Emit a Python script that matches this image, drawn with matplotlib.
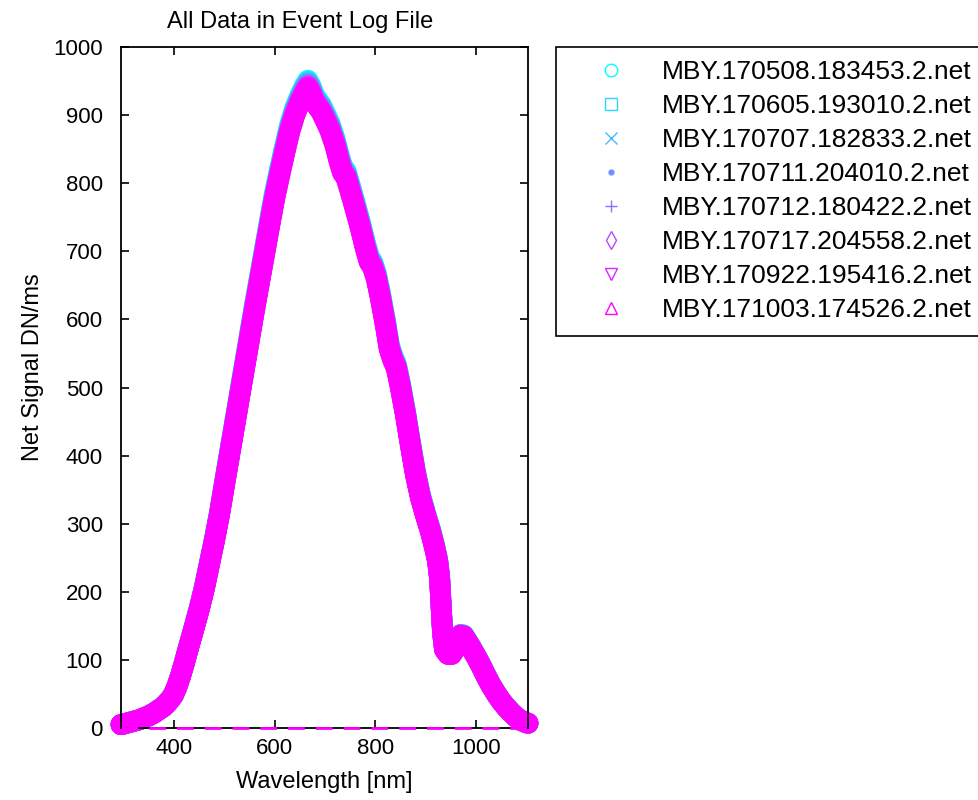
import matplotlib
matplotlib.use('Agg')
import matplotlib.pyplot as plt
import numpy as np

plt.rcParams['font.family'] = ['Liberation Sans', 'DejaVu Sans']

# file names in the event log
files = ['MBY.170508.183453.2.net', 'MBY.170605.193010.2.net',
         'MBY.170707.182833.2.net', 'MBY.170711.204010.2.net',
         'MBY.170712.180422.2.net', 'MBY.170717.204558.2.net',
         'MBY.170922.195416.2.net', 'MBY.171003.174526.2.net']
markers = ['o', 's', 'x', '.', '+', 'd', 'v', '^']

# wavelength [nm] and net signal [DN/ms]
wavelength = [294, 300, 310, 320, 330, 340, 350, 360, 370, 378, 385, 392,
              398, 405, 412, 420, 430, 440, 450, 460, 470, 480, 490, 500,
              510, 520, 530, 540, 550, 560, 570, 580, 590, 600, 610, 620,
              630, 640, 650, 660, 666, 672, 678, 685, 692, 700, 710, 720,
              728, 735, 742, 750, 760, 770, 780, 788, 795, 802, 810, 820,
              828, 835, 842, 850, 860, 870, 880, 890, 900, 910, 918, 924,
              928, 931, 934, 938, 945, 952, 958, 964, 970, 976, 982, 988,
              995, 1002, 1010, 1020, 1030, 1040, 1050, 1060, 1070, 1080,
              1090, 1100, 1104]
signal = [5, 6, 8, 10, 12, 15, 18, 22, 27, 31, 36, 42,
          48, 60, 75, 95, 122, 148, 175, 205, 240, 275, 313, 357,
          400, 443, 486, 529, 572, 615, 656, 697, 738, 778, 812, 845,
          876, 900, 918, 933, 940, 932, 920, 912, 905, 893, 877, 855,
          832, 815, 808, 788, 762, 735, 705, 684, 676, 660, 632, 592,
          556, 540, 528, 500, 460, 415, 372, 338, 312, 288, 265, 245,
          220, 180, 140, 115, 108, 108, 115, 128, 136, 135, 128, 121,
          112, 103, 92, 77, 63, 51, 40, 31, 23, 16,
          11, 8, 7]
# the runs differ only slightly in level (cyan shows at the edges)
gain = [1.012, 1.010, 1.008, 1.006, 1.004, 1.003, 1.001, 1.000]

fig = plt.figure(figsize=(9.79, 8.0), dpi=100)
ax = fig.add_axes([121 / 979, 1 - 728 / 800, 407 / 979, 681 / 800])

cmap = plt.get_cmap('cool')
wl = np.array(wavelength)
for i, name in enumerate(files):
    c = cmap(i / (len(files) - 1))
    y = np.array(signal) * gain[i]
    ax.plot(wl, y, '-', color=c, lw=15, solid_capstyle='round',
            solid_joinstyle='round', clip_on=False, zorder=2)
    filled = markers[i] == '.'
    ax.plot(wl, y, linestyle='none', marker=markers[i], ms=9 if not filled else 7,
            mfc=c if filled else 'none', mec=c, mew=1.0, label=name,
            clip_on=False, zorder=2)

# zero line
ax.plot([wl[0], wl[-1]], [0, 0], '--', color='magenta', lw=2,
        dashes=(6, 4), clip_on=False, zorder=3)

ax.set_xlim(294, 1104)
ax.set_ylim(0, 1000)
ax.set_xticks([400, 600, 800, 1000])
ax.set_yticks(np.arange(0, 1001, 100))
ax.tick_params(direction='in', top=True, right=True, length=6, width=1.2,
               labelsize=16, colors='black')
ax.tick_params(axis='y', pad=13)
ax.tick_params(axis='x', pad=7)
for s in ax.spines.values():
    s.set_linewidth(1.3)

ax.set_xlabel('Wavelength [nm]', fontsize=17, labelpad=9)
ax.set_ylabel('Net Signal DN/ms', fontsize=17)
ax.yaxis.set_label_coords(-0.19, 0.53)
ax.set_title('All Data in Event Log File', fontsize=17, x=0.44, pad=14)

leg = ax.legend(loc='upper left', bbox_to_anchor=(556 / 979, 1 - 47 / 800),
                bbox_transform=fig.transFigure, fontsize=19, numpoints=1,
                handlelength=3.2, handletextpad=0.3, borderpad=0.5,
                labelspacing=0.38, fancybox=False, framealpha=1,
                edgecolor='black', borderaxespad=0)
leg.get_frame().set_linewidth(1.2)

fig.savefig('out.png', dpi=100)
